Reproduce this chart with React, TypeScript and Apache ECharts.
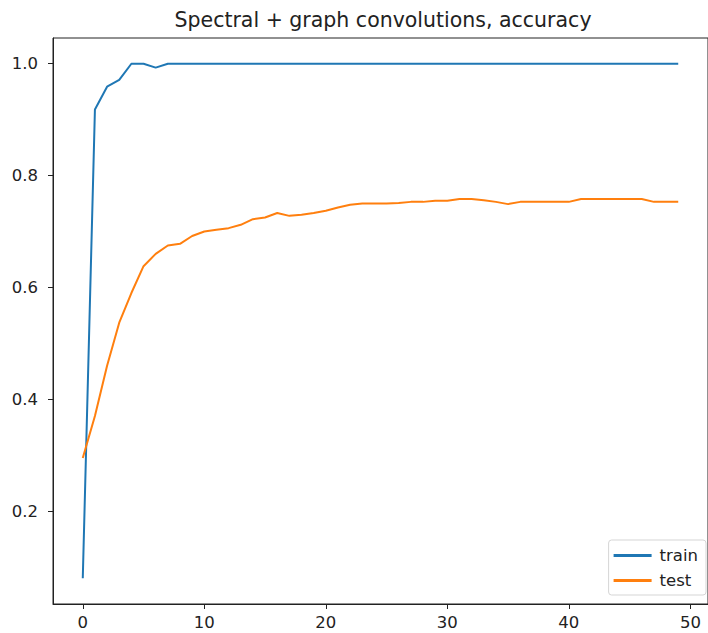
import React, { useEffect, useRef } from "react";
import * as echarts from "echarts";

const epochs: number[] = Array.from({ length: 50 }, (_, i) => i);
const trainAcc: number[] = [
  0.08, 0.918, 0.959, 0.971, 1.0, 1.0, 0.993, 1.0, 1.0, 1.0,
  1.0, 1.0, 1.0, 1.0, 1.0, 1.0, 1.0, 1.0, 1.0, 1.0,
  1.0, 1.0, 1.0, 1.0, 1.0, 1.0, 1.0, 1.0, 1.0, 1.0,
  1.0, 1.0, 1.0, 1.0, 1.0, 1.0, 1.0, 1.0, 1.0, 1.0,
  1.0, 1.0, 1.0, 1.0, 1.0, 1.0, 1.0, 1.0, 1.0, 1.0,
];
const testAcc: number[] = [
  0.295, 0.37, 0.46, 0.537, 0.59, 0.638, 0.66, 0.675, 0.678, 0.692,
  0.7, 0.703, 0.706, 0.712, 0.722, 0.725, 0.733, 0.728, 0.73, 0.733,
  0.737, 0.743, 0.748, 0.75, 0.75, 0.75, 0.751, 0.753, 0.753, 0.755,
  0.755, 0.758, 0.758, 0.756, 0.753, 0.749, 0.753, 0.753, 0.753, 0.753,
  0.753, 0.758, 0.758, 0.758, 0.758, 0.758, 0.758, 0.753, 0.753, 0.753,
];
const xTicks: number[] = [0, 10, 20, 30, 40, 50];
const yTicks: number[] = [0.2, 0.4, 0.6, 0.8, 1.0];
const titleText = "Spectral + graph convolutions, accuracy";

const FONT = "'DejaVu Sans', sans-serif";

export default function App() {
  const ref = useRef<HTMLDivElement>(null);
  useEffect(() => {
    if (!ref.current) return;
    const chart = echarts.init(ref.current, undefined, { renderer: "svg" });
    chart.setOption({
      animation: false,
      backgroundColor: "#fff",
      graphic: [
        {
          type: "text",
          x: 383,
          y: 20,
          style: {
            text: titleText,
            textAlign: "center",
            textVerticalAlign: "middle",
            font: `20.5px ${FONT}`,
            fill: "#222",
          },
        },
      ],
      grid: {
        left: 53,
        right: -4,
        top: 38,
        bottom: 29,
        show: true,
        borderColor: "#222",
        borderWidth: 1,
        backgroundColor: "transparent",
      },
      legend: {
        orient: "vertical",
        right: 2,
        bottom: 38,
        itemWidth: 38,
        itemHeight: 3,
        itemGap: 8,
        padding: [7, 8, 6, 5],
        backgroundColor: "rgba(255,255,255,0.8)",
        borderColor: "#d5d5d5",
        borderWidth: 1,
        borderRadius: 3,
        textStyle: { fontFamily: FONT, fontSize: 16.5, color: "#222", padding: [0, 0, 0, 3] },
        data: [
          { name: "train", icon: "rect" },
          { name: "test", icon: "rect" },
        ],
      },
      xAxis: {
        type: "value",
        min: -2.45,
        max: 51.45,
        splitLine: { show: false },
        axisLine: { show: true, onZero: false, lineStyle: { color: "#222", width: 1 } },
        axisTick: {
          show: true,
          length: 5,
          lineStyle: { color: "#222" },
          customValues: xTicks,
        },
        axisLabel: {
          margin: 10,
          fontFamily: FONT,
          fontSize: 16.5,
          color: "#222",
          customValues: xTicks,
        },
      },
      yAxis: {
        type: "value",
        min: 0.034,
        max: 1.046,
        splitLine: { show: false },
        axisLine: { show: true, onZero: false, lineStyle: { color: "#222", width: 1 } },
        axisTick: {
          show: true,
          length: 5,
          lineStyle: { color: "#222" },
          customValues: yTicks,
        },
        axisLabel: {
          margin: 15,
          fontFamily: FONT,
          fontSize: 16.5,
          color: "#222",
          customValues: yTicks,
          formatter: (v: number) => v.toFixed(1),
        },
      },
      series: [
        {
          name: "train",
          type: "line",
          data: epochs.map((e, i) => [e, trainAcc[i]]),
          showSymbol: false,
          symbol: "none",
          lineStyle: { color: "#1f77b4", width: 2 },
          itemStyle: { color: "#1f77b4" },
        },
        {
          name: "test",
          type: "line",
          data: epochs.map((e, i) => [e, testAcc[i]]),
          showSymbol: false,
          symbol: "none",
          lineStyle: { color: "#ff7f0e", width: 2 },
          itemStyle: { color: "#ff7f0e" },
        },
      ],
    });
    return () => chart.dispose();
  }, []);
  return <div ref={ref} style={{ width: 708, height: 633, position: "absolute", left: 0, top: 0 }} />;
}
